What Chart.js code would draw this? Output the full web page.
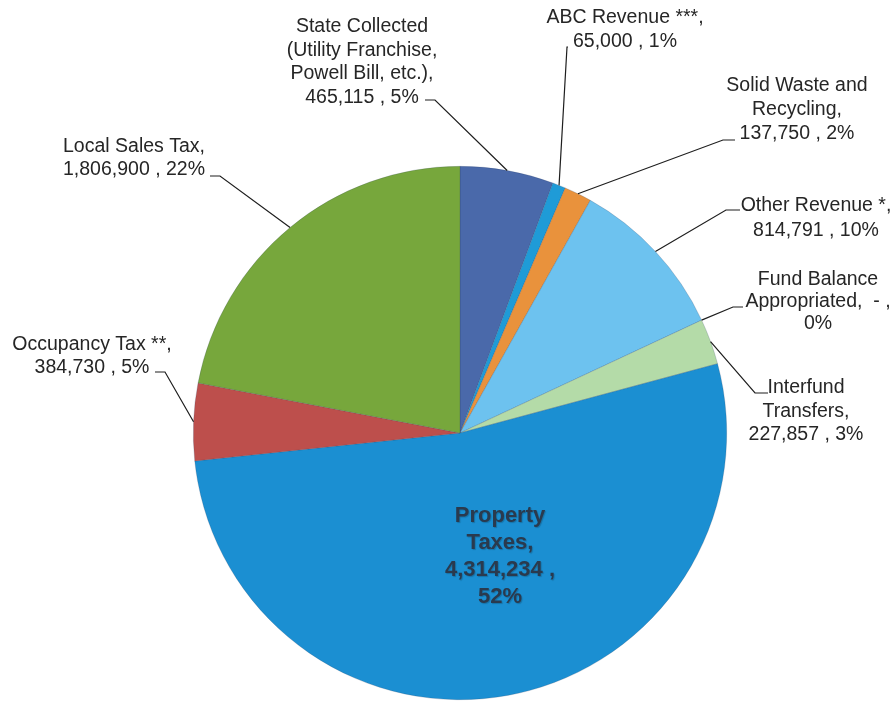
<!DOCTYPE html>
<html>
<head>
<meta charset="utf-8">
<script src="https://cdn.jsdelivr.net/npm/chart.js@4.4.1/dist/chart.umd.min.js"></script>
<style>
html, body { margin: 0; padding: 0; background: #fff; }
#wrap { width: 894px; height: 702px; }
</style>
</head>
<body>
<div id="wrap"><canvas id="revenueChart" width="894" height="702"></canvas></div>
<script>
// General fund revenue sources, clockwise from 12 o'clock
const categories = [
    "State Collected (Utility Franchise, Powell Bill, etc.)",
    "ABC Revenue ***",
    "Solid Waste and Recycling",
    "Other Revenue *",
    "Fund Balance Appropriated",
    "Interfund Transfers",
    "Property Taxes",
    "Occupancy Tax **",
    "Local Sales Tax"
];
const amounts = [465115, 65000, 137750, 814791, 0, 227857, 4314234, 384730, 1806900];
const sliceColors = ["#4a69aa", "#1f9bd7", "#e9923c", "#6dc2ef", "#8064a2", "#b4dba8", "#1b8fd2", "#bd4f4c", "#77a73c"];

// label text, wrapped the way the picture shows it
const labelLines = [
    ["State Collected", "(Utility Franchise,", "Powell Bill, etc.),", "465,115 , 5%"],
    ["ABC Revenue ***,", "65,000 , 1%"],
    ["Solid Waste and", "Recycling,", "137,750 , 2%"],
    ["Other Revenue *,", "814,791 , 10%"],
    ["Fund Balance", "Appropriated,  - ,", "0%"],
    ["Interfund", "Transfers,", "227,857 , 3%"],
    ["Property", "Taxes,", "4,314,234 ,", "52%"],
    ["Occupancy Tax **,", "384,730 , 5%"],
    ["Local Sales Tax,", "1,806,900 , 22%"]
];

// where each label sits; lead = [startX, startY, elbowX] of the leader line
const labelLayout = [
    { x: 362, y: 27,  lh: 23.5, lead: [425, 100, 435] },
    { x: 625, y: 18,  lh: 24,   lead: [568, 47, 567] },
    { x: 797, y: 86,  lh: 24,   lead: [735, 140, 723] },
    { x: 816, y: 206, lh: 25,   lead: [740, 210, 726] },
    { x: 818, y: 280, lh: 22,   lead: [743, 307, 733] },
    { x: 806, y: 388, lh: 23.5, lead: [768, 393, 755] },
    { x: 500, y: 516, lh: 27,   inside: true },
    { x: 92,  y: 345, lh: 23,   lead: [155, 372, 165] },
    { x: 134, y: 147, lh: 23,   lead: [210, 176, 220] }
];

const labelPlugin = {
    id: "pieLabels",
    afterDatasetsDraw(chart) {
        const ctx = chart.ctx;
        const arcs = chart.getDatasetMeta(0).data;
        ctx.save();
        labelLayout.forEach((lay, i) => {
            const lines = labelLines[i];
            if (lay.lead) {
                const p = arcs[i].getProps(["x", "y", "startAngle", "endAngle", "outerRadius"], true);
                const mid = (p.startAngle + p.endAngle) / 2;
                const ax = p.x + Math.cos(mid) * p.outerRadius;
                const ay = p.y + Math.sin(mid) * p.outerRadius;
                ctx.strokeStyle = "#1e1e1e";
                ctx.lineWidth = 1.2;
                ctx.beginPath();
                ctx.moveTo(lay.lead[0], lay.lead[1]);
                ctx.lineTo(lay.lead[2], lay.lead[1]);
                ctx.lineTo(ax, ay);
                ctx.stroke();
            }
            ctx.textAlign = "center";
            ctx.textBaseline = "middle";
            if (lay.inside) {
                ctx.font = 'bold 22px "Liberation Sans", Arial, sans-serif';
                ctx.shadowColor = "rgba(0,0,0,0.2)";
                ctx.shadowOffsetX = 1;
                ctx.shadowOffsetY = 1;
                ctx.shadowBlur = 1;
                ctx.fillStyle = "#2a3a4e";
            } else {
                ctx.font = '19.5px "Liberation Sans", Arial, sans-serif';
                ctx.shadowColor = "transparent";
                ctx.fillStyle = "#262626";
            }
            lines.forEach((t, k) => ctx.fillText(t, lay.x, lay.y + k * lay.lh));
            ctx.shadowColor = "transparent";
        });
        ctx.restore();
    }
};

new Chart(document.getElementById("revenueChart"), {
    type: "pie",
    data: {
        labels: categories,
        datasets: [{
            data: amounts,
            backgroundColor: sliceColors,
            borderColor: "rgba(40,60,90,0.35)",
            borderWidth: 0.6
        }]
    },
    options: {
        responsive: false,
        animation: false,
        layout: { padding: { left: 193, right: 167, top: 166, bottom: 2 } },
        plugins: {
            legend: { display: false },
            tooltip: { enabled: false }
        }
    },
    plugins: [labelPlugin]
});
</script>
</body>
</html>
